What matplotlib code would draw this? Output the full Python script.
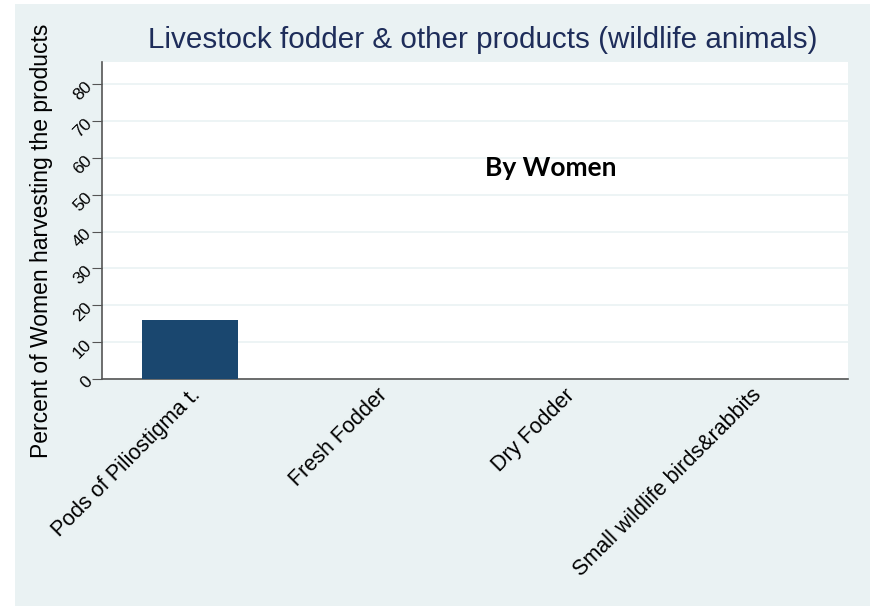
import numpy as np
import matplotlib.pyplot as plt
from matplotlib.patches import Rectangle

categories = ['Pods of Piliostigma t.', 'Fresh Fodder', 'Dry Fodder', 'Small wildlife birds&rabbits']
values = [16, 0, 0, 0]
yticks = [0, 10, 20, 30, 40, 50, 60, 70, 80]

W, H = 872, 606
fig = plt.figure(figsize=(W / 100, H / 100), dpi=100)
fig.patch.set_facecolor('white')

# light bluish-gray graph region
fig.patches.append(Rectangle((15 / W, 0), (870 - 15) / W, (606 - 4) / H,
                             transform=fig.transFigure, facecolor='#eaf2f3',
                             edgecolor='none', zorder=-5))

ax = fig.add_axes([102 / W, 1 - 379 / H, (848 - 102) / W, (379 - 62) / H])
ax.set_zorder(1)
ax.set_facecolor('white')

x = np.arange(len(categories))
ax.bar(x, values, width=0.51, color='#1a476f', zorder=3)

ax.set_xlim(-0.47, 3.52)
ax.set_ylim(0, 86)
ax.set_yticks(yticks)
ax.set_yticklabels([str(v) for v in yticks], rotation=45, fontsize=12.5,
                   family='Liberation Sans', va='center', ha='right',
                   rotation_mode='anchor')
ax.yaxis.grid(True, color='#eaf2f3', linewidth=1.2, zorder=0)
ax.set_axisbelow(True)

ax.set_xticks(x)
ax.set_xticklabels(categories, rotation=45, ha='right', rotation_mode='anchor',
                   fontsize=15.5, family='Liberation Sans')
ax.tick_params(axis='x', length=0, pad=4)
ax.tick_params(axis='y', length=7, color='#555555', pad=2)

for side in ['top', 'right']:
    ax.spines[side].set_visible(False)
for side in ['left', 'bottom']:
    ax.spines[side].set_color('#555555')
    ax.spines[side].set_linewidth(1.2)

ax.set_ylabel('Percent of Women harvesting the products', fontsize=16.5,
              family='Liberation Sans')
ax.yaxis.set_label_coords((53 - 102) / (848 - 102), (379 - 241) / (379 - 62))

fig.text(483 / W, 1 - 40 / H, 'Livestock fodder & other products (wildlife animals)',
         ha='center', va='center', fontsize=21.3, color='#1e2d5a',
         family='Liberation Sans')

fig.text(551 / W, 1 - 168 / H, 'By Women', ha='center', va='center',
         fontsize=19, fontweight='bold', family='Lato')

fig.savefig('out.png', dpi=100)
